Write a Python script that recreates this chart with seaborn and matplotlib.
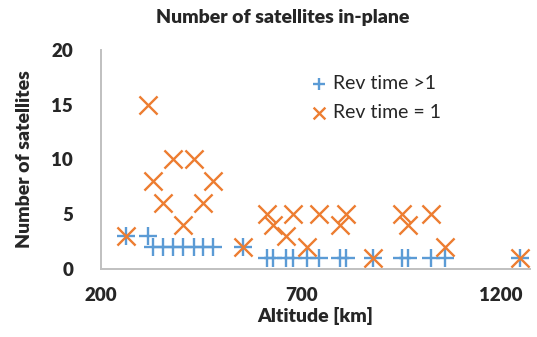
import matplotlib
matplotlib.use("Agg")
import matplotlib.pyplot as plt
import seaborn as sb
import pandas as pd

# DATA
#-----------------------------------
altitude = [262, 318, 331, 356, 379, 405, 432, 455, 480, 556,
            615, 631, 663, 680, 715, 744, 797, 812, 880, 951,
            968, 1025, 1060, 1247]
sats_rev_gt1 = [3, 3, 2, 2, 2, 2, 2, 2, 2, 2,
                1, 1, 1, 1, 1, 1, 1, 1, 1, 1,
                1, 1, 1, 1]
sats_rev_eq1 = [3, 15, 8, 6, 10, 4, 10, 6, 8, 2,
                5, 4, 3, 5, 2, 5, 4, 5, 1, 5,
                4, 5, 2, 1]
x_ticks = [200, 700, 1200]
y_ticks = [0, 5, 10, 15, 20]

blue = "#5B9BD5"
orange = "#ED7D31"

# PLOT
#-----------------------------------
def main():
    df = pd.DataFrame({"Altitude": altitude,
                       "Rev time >1": sats_rev_gt1,
                       "Rev time = 1": sats_rev_eq1})

    sb.set_style("white")
    plt.rcParams["font.family"] = ["Lato", "DejaVu Sans"]

    fig = plt.figure(figsize=(5.37, 3.37), dpi=100)
    ax = fig.add_axes([0.188, 0.202, 0.799, 0.650])

    sb.scatterplot(data=df, x="Altitude", y="Rev time >1", marker="+",
                   s=170, color=blue, linewidth=1.7, label="Rev time >1", ax=ax)
    sb.scatterplot(data=df, x="Altitude", y="Rev time = 1", marker="x",
                   s=170, color=orange, linewidth=1.7, label="Rev time = 1", ax=ax)

    ax.set_xlim(200, 1272)
    ax.set_ylim(0, 20)
    ax.set_xticks(x_ticks)
    ax.set_yticks(y_ticks)
    ax.tick_params(length=0, labelsize=13.5)
    ax.tick_params(axis="x", pad=13)
    ax.tick_params(axis="y", pad=20)
    for lab in ax.get_xticklabels() + ax.get_yticklabels():
        lab.set_fontweight("heavy")

    for side in ["top", "right"]:
        ax.spines[side].set_visible(False)
    for side in ["left", "bottom"]:
        ax.spines[side].set_color("#C0C0C0")
        ax.spines[side].set_linewidth(1.4)

    ax.set_xlabel("Altitude [km]", fontsize=14, fontweight="heavy", labelpad=2)
    ax.set_ylabel("Number of satellites", fontsize=14, fontweight="heavy", labelpad=13)
    fig.text(0.527, 0.948, "Number of satellites in-plane", fontsize=14,
             fontweight="heavy", ha="center", va="center")

    ax.legend(loc="upper left", bbox_to_anchor=(0.475, 0.922), frameon=False,
              fontsize=14, markerscale=0.65, handlelength=0.7,
              handletextpad=0.35, labelspacing=0.62, borderaxespad=0)

    fig.savefig("out.png", dpi=100)


if __name__ == "__main__":
    main()
